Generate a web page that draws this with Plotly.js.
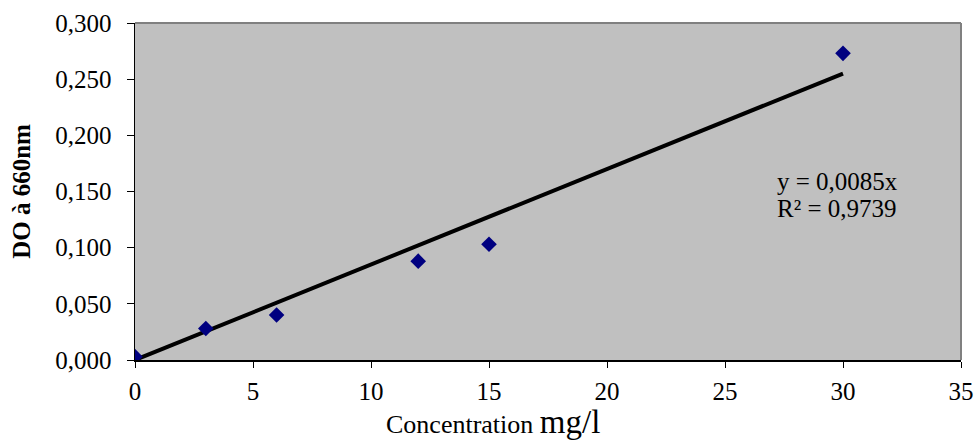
<!DOCTYPE html>
<html>
<head>
<meta charset="utf-8">
<script src="https://cdn.plot.ly/plotly-3.0.1.min.js"></script>
<style>html,body{margin:0;padding:0;background:#fff;}#chart{width:976px;height:443px;}</style>
</head>
<body>
<div id="chart"></div>
<script>
const concentration = [0, 3, 6, 12, 15, 30];
const absorbance = [0.003, 0.028, 0.040, 0.088, 0.103, 0.273];
const trendX = [0, 30];
const slope = 0.0085;
const trendY = trendX.map(x => slope * x);
const xTicks = [0, 5, 10, 15, 20, 25, 30, 35];
const yTicks = [0, 0.05, 0.10, 0.15, 0.20, 0.25, 0.30];
const equationLines = ["y = 0,0085x", "R² = 0,9739"];
const xTitleText = "Concentration <span style='font-size:33px'>mg/l</span>";
const yTitleText = "<b>DO à 660nm</b>";

const font = "'Liberation Serif', 'Times New Roman', serif";

const data = [
  {x: trendX, y: trendY, mode: "lines", line: {color: "#000000", width: 4}, showlegend: false, hoverinfo: "skip"},
  {x: concentration, y: absorbance, mode: "markers", marker: {symbol: "diamond", size: 12, color: "#000080"}, showlegend: false}
];

const layout = {
  width: 976, height: 443,
  margin: {l: 135, r: 15, t: 23, b: 83},
  paper_bgcolor: "#ffffff",
  plot_bgcolor: "#C0C0C0",
  separators: ",.",
  font: {family: font, size: 25, color: "#000000"},
  xaxis: {
    range: [0, 35], tickvals: xTicks, ticktext: xTicks.map(String),
    showgrid: false, zeroline: false, showline: true, linecolor: "#000000", linewidth: 1.5,
    ticks: "outside", ticklen: 6, tickcolor: "#000000", tickwidth: 1,
    tickfont: {family: font, size: 25}, ticklabelstandoff: 2
  },
  yaxis: {
    range: [0, 0.3], tickvals: yTicks, tickformat: ".3f",
    showgrid: false, zeroline: false, showline: true, linecolor: "#000000", linewidth: 1.5,
    ticks: "outside", ticklen: 7, tickcolor: "#000000", tickwidth: 1,
    tickfont: {family: font, size: 25}, ticklabelstandoff: 10,
    title: {text: yTitleText, font: {family: font, size: 25}, standoff: 17}
  },
  shapes: [
    {type: "line", xref: "paper", yref: "paper", x0: 0, x1: 1, y0: 1, y1: 1, line: {color: "#808080", width: 2}},
    {type: "line", xref: "paper", yref: "paper", x0: 1, x1: 1, y0: 0, y1: 1, line: {color: "#808080", width: 2}}
  ],
  annotations: [
    {xref: "x", yref: "y", x: 27.12, y: 0.1585, text: equationLines[0], showarrow: false, xanchor: "left", yanchor: "middle", font: {family: font, size: 25, color: "#000000"}},
    {xref: "x", yref: "y", x: 27.12, y: 0.1353, text: equationLines[1], showarrow: false, xanchor: "left", yanchor: "middle", font: {family: font, size: 25, color: "#000000"}},
    {xref: "paper", yref: "paper", x: 0.433, y: 0, yshift: -62, text: xTitleText, showarrow: false, xanchor: "center", yanchor: "middle", font: {family: font, size: 26, color: "#000000"}}
  ]
};

Plotly.newPlot("chart", data, layout, {displayModeBar: false, staticPlot: true});
</script>
</body>
</html>
